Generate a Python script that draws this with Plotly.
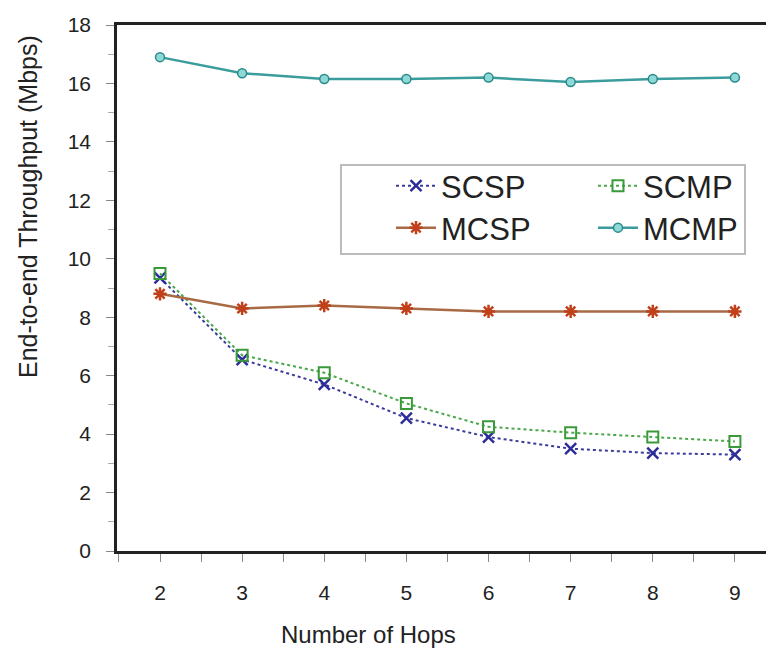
import plotly.graph_objects as go

hops = [2, 3, 4, 5, 6, 7, 8, 9]
scsp = [9.35, 6.55, 5.7, 4.55, 3.9, 3.5, 3.35, 3.3]
scmp = [9.5, 6.7, 6.1, 5.05, 4.25, 4.05, 3.9, 3.75]
mcsp = [8.8, 8.3, 8.4, 8.3, 8.2, 8.2, 8.2, 8.2]
mcmp = [16.9, 16.35, 16.15, 16.15, 16.2, 16.05, 16.15, 16.2]
y_ticks = [0, 2, 4, 6, 8, 10, 12, 14, 16, 18]

FONT = "Liberation Sans, Arial, sans-serif"

# page body has an 8px margin: figure is drawn from (8, 8) in the screenshot
PL, PT, PW, PH = 117, 25, 657, 526


def px(x):
    return (x - PL) / PW


def py(y):
    return (PT + PH - y) / PH


fig = go.Figure()
fig.add_trace(go.Scatter(x=hops, y=scsp, name="SCSP", mode="lines+markers", legend="legend",
                         line=dict(color="#3b3b9c", width=2, dash="dot"),
                         marker=dict(symbol="x-thin", size=11, color="#2d2d9a",
                                     line=dict(width=2.5, color="#2d2d9a"))))
fig.add_trace(go.Scatter(x=hops, y=scmp, name="SCMP", mode="lines+markers", legend="legend",
                         line=dict(color="#4aa84a", width=2, dash="dot"),
                         marker=dict(symbol="square-open", size=11, color="#3a9a3a",
                                     line=dict(width=2, color="#3a9a3a"))))
fig.add_trace(go.Scatter(x=hops, y=mcsp, name="MCSP", mode="lines+markers", legend="legend2",
                         line=dict(color="#a86a45", width=2.5),
                         marker=dict(symbol="asterisk-open", size=11, color="#c0401a",
                                     line=dict(width=2.5, color="#c0401a"))))
fig.add_trace(go.Scatter(x=hops, y=mcmp, name="MCMP", mode="lines+markers", legend="legend2",
                         line=dict(color="#3a9c9c", width=2.5),
                         marker=dict(symbol="circle", size=9, color="#8fd8d8",
                                     line=dict(width=1.5, color="#2a8a8a"))))

leg_common = dict(orientation="h", xanchor="left", yanchor="top",
                  entrywidth=147, entrywidthmode="pixels",
                  bgcolor="rgba(0,0,0,0)", borderwidth=0,
                  font=dict(size=31, family=FONT, color="#222222"), itemwidth=40)

fig.update_layout(
    width=766, height=644,
    margin=dict(l=109, r=0, t=17, b=101, autoexpand=False),
    paper_bgcolor="white", plot_bgcolor="white",
    font=dict(family=FONT, color="#222222", size=21),
    showlegend=True,
    legend=dict(x=px(391), y=py(159), **leg_common),
    legend2=dict(x=px(391), y=py(201), **leg_common),
    xaxis=dict(range=[1.4765, 9.476], tickvals=hops, ticks="outside", ticklen=8,
               tickwidth=1, tickcolor="#888888", automargin=False, ticklabelstandoff=13,
               minor=dict(dtick=0.5, tick0=1.5, ticks="outside", ticklen=8, tickcolor="#888888"),
               showline=True, linecolor="#222222", linewidth=2.5, mirror=True,
               showgrid=False, zeroline=False, tickfont=dict(size=21)),
    yaxis=dict(range=[0, 18], tickvals=y_ticks, ticks="outside", ticklen=8,
               tickwidth=1, tickcolor="#888888", automargin=False, ticklabelstandoff=11,
               minor=dict(dtick=1, ticks="outside", ticklen=6, tickcolor="#aaaaaa"),
               showline=True, linecolor="#222222", linewidth=2.5,
               showgrid=False, zeroline=False, tickfont=dict(size=21)),
)
fig.add_shape(type="rect", xref="paper", yref="paper",
              x0=px(341), x1=px(745), y0=py(254), y1=py(165),
              line=dict(color="#bbbbbb", width=2), fillcolor="white", layer="below")
fig.add_annotation(text="Number of Hops", xref="paper", yref="paper",
                   x=px(368), y=py(634), showarrow=False,
                   xanchor="center", yanchor="middle", font=dict(size=24, family=FONT))
fig.add_annotation(text="End-to-end Throughput (Mbps)", xref="paper", yref="paper",
                   x=px(28), y=py(207), showarrow=False, textangle=-90,
                   xanchor="center", yanchor="middle", font=dict(size=25, family=FONT))

fig.write_html("out.html")
